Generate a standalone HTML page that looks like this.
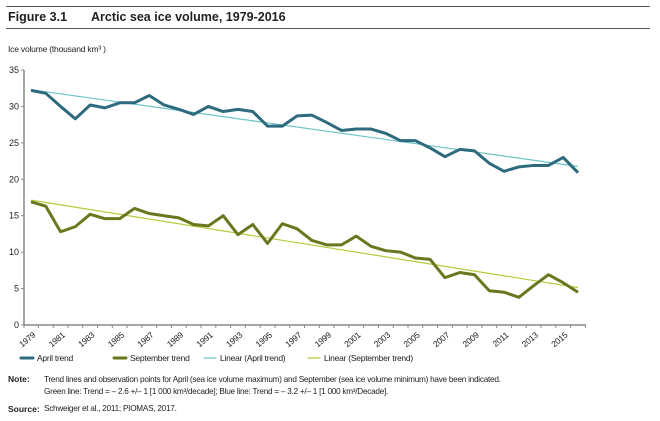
<!DOCTYPE html>
<html><head><meta charset="utf-8"><style>
body{margin:0;width:660px;height:421px;background:#fff;font-family:"Liberation Sans",sans-serif;color:#222;overflow:hidden;position:relative}
.abs{position:absolute}
</style></head><body>
<div class="abs" style="left:6px;top:6px;width:644px;height:1px;background:#555"></div>
<div class="abs" style="left:8px;top:10px;font-weight:bold;font-size:12.5px">Figure 3.1</div>
<div class="abs" style="left:91px;top:10px;font-weight:bold;font-size:12.5px">Arctic sea ice volume, 1979-2016</div>
<div class="abs" style="left:6px;top:28px;width:644px;height:1px;background:#555"></div>
<div class="abs" style="left:8px;top:44px;font-size:8.5px;letter-spacing:-0.2px">Ice volume (thousand km³ )</div>
<svg class="abs" style="left:0;top:0" width="660" height="421" id="chart"></svg>
<div class="abs" style="left:8px;top:374px;font-size:8.5px;font-weight:bold">Note:</div>
<div class="abs" style="left:44px;top:374px;font-size:8.2px;letter-spacing:-0.25px;line-height:12px">Trend lines and observation points for April (sea ice volume maximum) and September (sea ice volume minimum) have been indicated.<br>Green line: Trend = – 2.6 +/– 1 [1 000 km³/decade]; Blue line: Trend = – 3.2 +/– 1 [1 000 km³/Decade].</div>
<div class="abs" style="left:8px;top:404px;font-size:8.5px;font-weight:bold">Source:</div>
<div class="abs" style="left:44px;top:404px;font-size:8.2px;letter-spacing:-0.25px">Schweiger et al., 2011; PIOMAS, 2017.</div>
<script>
const years=[1979,1980,1981,1982,1983,1984,1985,1986,1987,1988,1989,1990,1991,1992,1993,1994,1995,1996,1997,1998,1999,2000,2001,2002,2003,2004,2005,2006,2007,2008,2009,2010,2011,2012,2013,2014,2015,2016];
const april=[32.2,31.8,30.0,28.3,30.2,29.8,30.5,30.5,31.5,30.2,29.6,28.9,30.0,29.3,29.6,29.3,27.3,27.3,28.7,28.8,27.8,26.7,26.9,26.9,26.3,25.3,25.3,24.3,23.1,24.1,23.9,22.2,21.1,21.7,21.9,21.9,23.0,20.9];
const september=[16.9,16.3,12.8,13.5,15.2,14.6,14.6,16.0,15.3,15.0,14.7,13.8,13.6,15.0,12.4,13.8,11.2,13.9,13.2,11.6,11.0,11.0,12.2,10.8,10.2,10.0,9.2,9.0,6.5,7.2,6.9,4.7,4.5,3.8,5.4,6.9,5.8,4.5];
const yTicks=[0,5,10,15,20,25,30,35];
const svg=document.getElementById('chart');const NS='http://www.w3.org/2000/svg';
const x0=24,x1=586,yBase=325,yTop=70;
const X=i=>31+i*(578-31)/(years.length-1);
const Y=v=>yBase-(v/35)*(yBase-yTop);
function mk(t,a){const e=document.createElementNS(NS,t);for(const k in a)e.setAttribute(k,a[k]);svg.appendChild(e);return e;}
let e=mk('line',{x1:x0,y1:yTop,x2:x0,y2:yBase,stroke:'#888','stroke-width':1.5});

e=mk('line',{x1:x0,y1:yBase,x2:x1,y2:yBase,stroke:'#888','stroke-width':1.5});

yTicks.forEach(v=>{mk('line',{x1:x0-3,y1:Y(v),x2:x0,y2:Y(v),stroke:'#888'});
const t=mk('text',{x:x0-5,y:Y(v)+3,'text-anchor':'end','font-size':9,fill:'#222'});t.textContent=v;
});
years.forEach((yr,i)=>{const xx=X(i)+7.4;mk('line',{x1:xx,y1:yBase,x2:xx,y2:yBase+3,stroke:'#888'});
if(i%2===0){const t=mk('text',{x:X(i)+5,y:yBase+11,'text-anchor':'end','font-size':8.5,fill:'#222','letter-spacing':'-0.2',transform:`rotate(-40 ${X(i)+5} ${yBase+11})`});t.textContent=yr;
}});
mk('line',{x1:x0,y1:yBase,x2:x0,y2:yBase+3,stroke:'#888'});
function fit(arr){const n=arr.length;let mx=(n-1)/2,my=arr.reduce((a,b)=>a+b)/n,sxy=0,sxx=0;arr.forEach((v,i)=>{sxy+=(i-mx)*(v-my);sxx+=(i-mx)*(i-mx)});const b=sxy/sxx;return [my-b*mx,my+b*(n-1-mx)];}
const fa=fit(april),fs=fit(september);
e=mk('line',{x1:X(0),y1:Y(fa[0]),x2:X(years.length-1),y2:Y(fa[1]),stroke:'#6cc5c9','stroke-width':1.2});

e=mk('line',{x1:X(0),y1:Y(fs[0]),x2:X(years.length-1),y2:Y(fs[1]),stroke:'#b5cc3a','stroke-width':1.2});

function line(arr,c){return mk('polyline',{points:arr.map((v,i)=>X(i)+','+Y(v)).join(' '),fill:'none',stroke:c,'stroke-width':3,'stroke-linejoin':'round'});}
e=line(april,'#2e6b7e');
e=line(september,'#66791f');
const legend=[['April trend','#2e6b7e',3,21],['September trend','#66791f',3,114],['Linear (April trend)','#6cc5c9',1.2,204],['Linear (September trend)','#b5cc3a',1.2,308]];
legend.forEach(l=>{const g=document.createElementNS(NS,'g');svg.appendChild(g);

const ln=document.createElementNS(NS,'line');[['x1',l[3]],['y1',358],['x2',l[3]+12],['y2',358],['stroke',l[1]],['stroke-width',l[2]],['stroke-linecap','round']].forEach(a=>ln.setAttribute(a[0],a[1]));g.appendChild(ln);
const t=document.createElementNS(NS,'text');t.setAttribute('x',l[3]+16);t.setAttribute('y',361);t.setAttribute('font-size',8.5);t.setAttribute('letter-spacing','-0.25');t.setAttribute('fill','#222');t.textContent=l[0];g.appendChild(t);});
</script>
</body></html>
